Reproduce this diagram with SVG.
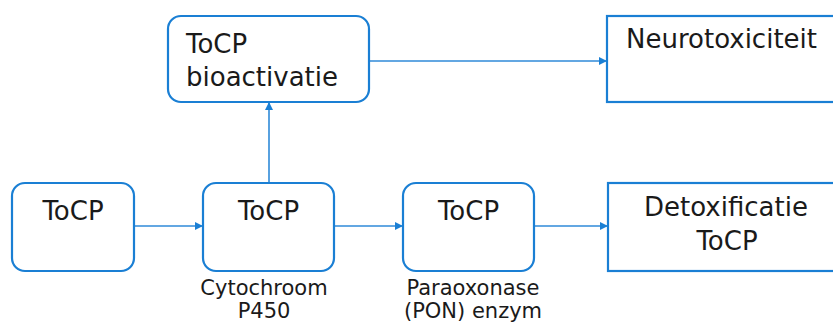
<svg xmlns="http://www.w3.org/2000/svg" width="833" height="324" viewBox="0 0 833 324">
<style>
.box{fill:#fff;stroke:#1a7fd4;stroke-width:2.2}
.t{font-family:"DejaVu Sans",Verdana,sans-serif;font-size:26px;fill:#1a1a1a}
.s{font-family:"DejaVu Sans",Verdana,sans-serif;font-size:21px;fill:#1a1a1a}
.c{stroke:#2f8ad8;stroke-width:1.6;fill:none}
</style>
<defs>
<marker id="ah" viewBox="0 0 10 10" refX="10" refY="5" markerWidth="9" markerHeight="8" markerUnits="userSpaceOnUse" orient="auto">
<path d="M0,0 L10,5 L0,10 z" fill="#1a7fd4"/>
</marker>
</defs>
<rect width="833" height="324" fill="#fff"/>
<g id="connectors">
<line class="c" x1="134" y1="226" x2="203" y2="226" marker-end="url(#ah)"/>
<line class="c" x1="334" y1="226" x2="403" y2="226" marker-end="url(#ah)"/>
<line class="c" x1="534" y1="226" x2="608" y2="226" marker-end="url(#ah)"/>
<line class="c" x1="269" y1="183" x2="269" y2="102" marker-end="url(#ah)"/>
<line class="c" x1="369" y1="61" x2="607" y2="61" marker-end="url(#ah)"/>
</g>
<g id="bioactivatie">
<rect class="box" x="168" y="16" width="201" height="86" rx="13"/>
<text class="t" x="186" y="53">ToCP</text>
<text class="t" x="186" y="86">bioactivatie</text>
</g>
<g id="neurotoxiciteit">
<rect class="box" x="607" y="16" width="240" height="86"/>
<text class="t" x="626" y="48">Neurotoxiciteit</text>
</g>
<g id="tocp1">
<rect class="box" x="12" y="183" width="122" height="88" rx="13"/>
<text class="t" x="73" y="220" text-anchor="middle">ToCP</text>
</g>
<g id="tocp2">
<rect class="box" x="203" y="183" width="131" height="88" rx="13"/>
<text class="t" x="268.500" y="220" text-anchor="middle">ToCP</text>
<text class="s" x="264" y="295" text-anchor="middle">Cytochroom</text>
<text class="s" x="264" y="318" text-anchor="middle">P450</text>
</g>
<g id="tocp3">
<rect class="box" x="403" y="183" width="131" height="88" rx="13"/>
<text class="t" x="468.500" y="220" text-anchor="middle">ToCP</text>
<text class="s" x="473" y="295" text-anchor="middle">Paraoxonase</text>
<text class="s" x="473" y="318" text-anchor="middle">(PON) enzym</text>
</g>
<g id="detoxificatie">
<rect class="box" x="608" y="183" width="240" height="88"/>
<text class="t" x="726" y="216" text-anchor="middle">Detoxificatie</text>
<text class="t" x="727" y="250" text-anchor="middle">ToCP</text>
</g>
</svg>
